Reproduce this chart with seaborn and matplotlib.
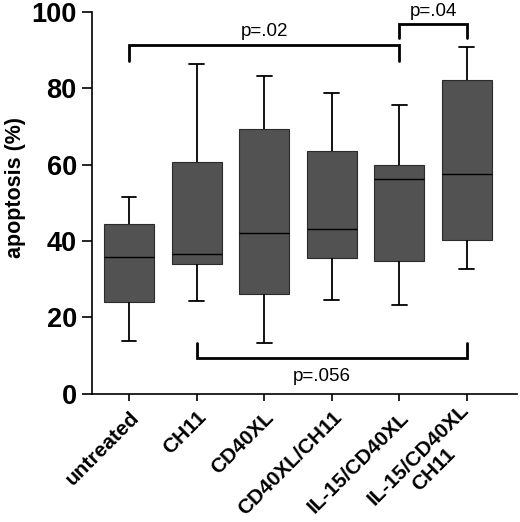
import matplotlib
matplotlib.use("Agg")
import numpy as np
import pandas as pd
import seaborn as sns
from matplotlib import pyplot as plt
from matplotlib.transforms import ScaledTranslation

groups = ["untreated", "CH11", "CD40XL", "CD40XL/CH11", "IL-15/CD40XL", "IL-15/CD40XL\nCH11"]

# five-number summaries (apoptosis, %)
mins = [13.9, 24.2, 13.2, 24.6, 23.1, 32.7]
q1s = [23.9, 33.9, 26.0, 35.6, 34.8, 40.2]
medians = [35.9, 36.7, 42.2, 43.1, 56.2, 57.6]
q3s = [44.4, 60.6, 69.4, 63.7, 60.0, 82.3]
maxs = [51.4, 86.5, 83.3, 78.8, 75.6, 90.8]

# significance brackets: left group, right group, bar level, leg end level
brk_left = [0, 4, 1]
brk_right = [4, 5, 5]
brk_bar = [91.3, 96.9, 9.2]
brk_leg = [87.2, 93.1, 13.3]
p_labels = ["p=.02", "p=.04", "p=.056"]

sns.set_style("ticks")
plt.rcParams["font.family"] = ["Liberation Sans", "DejaVu Sans"]
plt.rcParams.update({"text.color": "black", "axes.labelcolor": "black",
                     "xtick.color": "black", "ytick.color": "black",
                     "axes.edgecolor": "black"})

# five values per group -> quartiles land exactly on q1/q3 with linear percentiles
rows = []
for g, a, b, c, d, e in zip(groups, mins, q1s, medians, q3s, maxs):
    for v in (a, b, c, d, e):
        rows.append({"group": g, "apoptosis": v})
df = pd.DataFrame(rows)

fig = plt.figure(figsize=(5.2, 5.22), dpi=100)
ax = fig.add_axes([0.177, 0.246, 0.817, 0.731])

sns.boxplot(data=df, x="group", y="apoptosis", order=groups, whis=(0, 100),
            width=0.74, color="#525252", saturation=1, linecolor="black",
            linewidth=1.0, showfliers=False, capwidths=0.22,
            medianprops=dict(color="black", linewidth=1.0),
            whiskerprops=dict(color="black", linewidth=1.3),
            capprops=dict(color="black", linewidth=1.3),
            boxprops=dict(edgecolor="#2a2a2a", linewidth=0.8), ax=ax)

# brackets
for i in range(len(p_labels)):
    l, r = brk_left[i], brk_right[i]
    ax.plot([l, l, r, r], [brk_leg[i], brk_bar[i], brk_bar[i], brk_leg[i]],
            color="black", lw=2.0, clip_on=False, solid_joinstyle="miter")
ax.text(2.0, 92.6, p_labels[0], ha="center", va="bottom", fontsize=13.5)
ax.text(4.5, 98.0, p_labels[1], ha="center", va="bottom", fontsize=13.5)
ax.text(2.85, 4.4, p_labels[2], ha="center", va="center", fontsize=13.5)

ax.set_ylim(0, 100)
ax.set_xlim(-0.547, 5.74)
ax.set_yticks([0, 20, 40, 60, 80, 100])
ax.tick_params(axis="y", length=7, width=1.2, labelsize=19.5, pad=4)
ax.tick_params(axis="x", length=5, width=1.2, labelsize=15, pad=10)
for lab in ax.get_yticklabels():
    lab.set_fontweight("bold")
ax.set_xticks(range(len(groups)))
ax.set_xticklabels(groups, rotation=45, ha="right", va="center",
                   rotation_mode="anchor", fontweight="bold",
                   multialignment="center")
shift = ScaledTranslation(7 / 100, 0, fig.dpi_scale_trans)
for lab in ax.get_xticklabels():
    lab.set_transform(lab.get_transform() + shift)
ax.set_xlabel("")
ax.set_ylabel("apoptosis (%)", fontsize=15.5, fontweight="bold")
ax.yaxis.set_label_coords(-0.155, 0.54)
sns.despine(ax=ax)
for s in ("left", "bottom"):
    ax.spines[s].set_linewidth(1.2)

fig.savefig("out.png", dpi=100)
